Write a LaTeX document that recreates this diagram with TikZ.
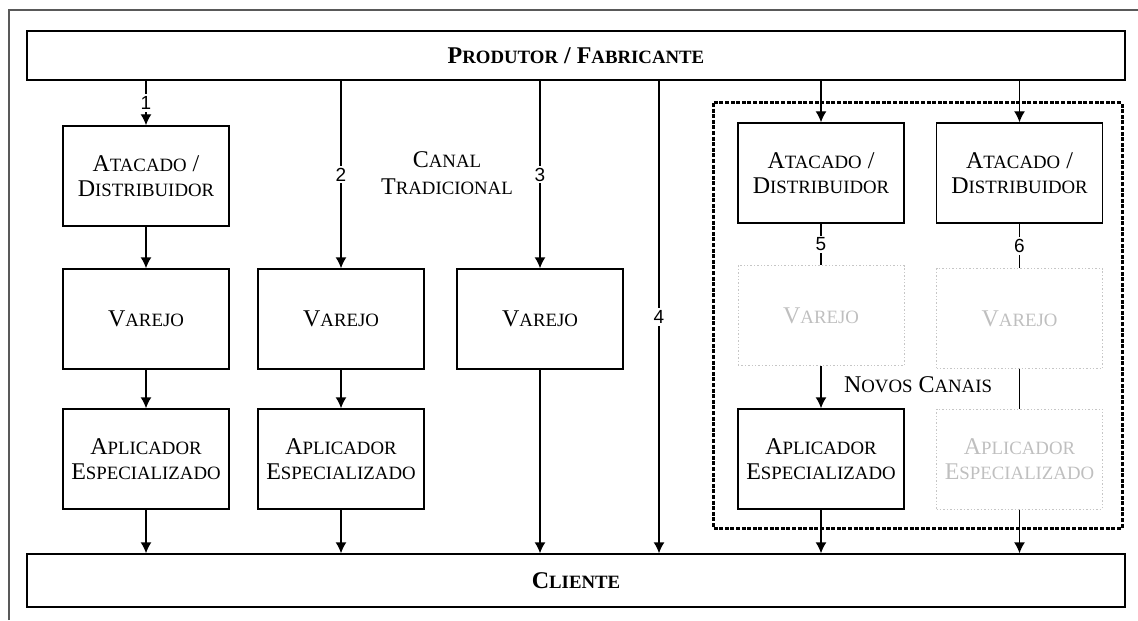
\documentclass[tikz,border=0pt]{standalone}
\usepackage{fontspec}
\setmainfont{Liberation Serif}
\newfontfamily\numfont{Liberation Sans}
\usetikzlibrary{arrows.meta}
\newcommand{\pq}[1]{{\fontsize{9.4pt}{10pt}\selectfont #1}}
\newcommand{\pqb}[1]{{\fontsize{9.4pt}{10pt}\selectfont #1}}

\begin{document}
\begin{tikzpicture}[x=0.5pt, y=-0.5pt]
	\tikzset{caixa/.style = {shape=rectangle, draw, line width=0.7pt, minimum width=83pt, minimum height=50pt, align=center, inner sep=0pt, font=\fontsize{12pt}{12.5pt}\selectfont}}
	\tikzset{clara/.style = {caixa, draw=gray!45, densely dotted, line width=0.5pt, text=gray!50}}
	\tikzset{barra/.style = {shape=rectangle, draw, line width=0.7pt, minimum width=549pt, inner sep=0pt, font=\bfseries\fontsize{12pt}{14pt}\selectfont}}
	\tikzset{link/.style = {-{Latex[length=5.5pt,width=5.5pt]}, line width=0.7pt}}
	\tikzset{num/.style = {fill=white, inner sep=1pt, font=\numfont\fontsize{9.5pt}{10pt}\selectfont}}
	\useasboundingbox (0,0) rectangle (1138,620);
	\draw[gray!70!black, line width=0.6pt] (9,620) -- (9,10) -- (1138,10);
	\draw[line width=1.5pt, dash pattern=on 2pt off 0.8pt] (713,103) rectangle (1122,528);
	% barras
	\node[barra, minimum height=24.5pt] (prod) at (576,55.5) {P\pqb{RODUTOR} / F\pqb{ABRICANTE}};
	\node[barra, minimum height=26.5pt] (cli) at (576,580.5) {C\pqb{LIENTE}};
	% canal tradicional
	\node[caixa] (a1) at (146,176) {A\pq{TACADO} /\\D\pq{ISTRIBUIDOR}};
	\node[caixa] (v1) at (146,319) {V\pq{AREJO}};
	\node[caixa] (p1) at (146,459) {A\pq{PLICADOR}\\E\pq{SPECIALIZADO}};
	\node[caixa] (v2) at (341,319) {V\pq{AREJO}};
	\node[caixa] (p2) at (341,459) {A\pq{PLICADOR}\\E\pq{SPECIALIZADO}};
	\node[caixa] (v3) at (540,319) {V\pq{AREJO}};
	\node[align=center, font=\fontsize{12pt}{13.5pt}\selectfont] (trad) at (447,173) {C\pq{ANAL}\\T\pq{RADICIONAL}};
	\coordinate (c4) at (659,0);
	% novos canais
	\node[caixa] (a5) at (821,173) {A\pq{TACADO} /\\D\pq{ISTRIBUIDOR}};
	\node[clara] (v5) at (821,315.5) {V\pq{AREJO}};
	\node[caixa] (p5) at (821,459) {A\pq{PLICADOR}\\E\pq{SPECIALIZADO}};
	\node[caixa] (a6) at (1019.5,173) {A\pq{TACADO} /\\D\pq{ISTRIBUIDOR}};
	\node[clara] (v6) at (1019.5,318.5) {V\pq{AREJO}};
	\node[clara] (p6) at (1019.5,459) {A\pq{PLICADOR}\\E\pq{SPECIALIZADO}};
	\node[font=\fontsize{12pt}{13pt}\selectfont] (novos) at (918,385) {N\pq{OVOS} C\pq{ANAIS}};
	% ligacoes
	\draw[link] (prod.south -| a1) -- node[num] {1} (a1);
	\draw[link] (a1) -- (v1);
	\draw[link] (v1) -- (p1);
	\draw[link] (p1) -- (cli.north -| p1);
	\draw[link] (prod.south -| v2) -- node[num] {2} (v2);
	\draw[link] (v2) -- (p2);
	\draw[link] (p2) -- (cli.north -| p2);
	\draw[link] (prod.south -| v3) -- node[num] {3} (v3);
	\draw[link] (v3) -- (cli.north -| v3);
	\draw[link] (prod.south -| c4) -- node[num] {4} (cli.north -| c4);
	\draw[link] (prod.south -| a5) -- (a5);
	\draw[line width=0.7pt] (a5) -- node[num] {5} (v5);
	\draw[link] (v5) -- (p5);
	\draw[link] (p5) -- (cli.north -| p5);
	\draw[link] (prod.south -| a6) -- (a6);
	\draw[line width=0.7pt] (a6) -- node[num] {6} (v6);
	\draw[line width=0.7pt] (v6) -- (p6);
	\draw[link] (p6) -- (cli.north -| p6);
\end{tikzpicture}
\end{document}
